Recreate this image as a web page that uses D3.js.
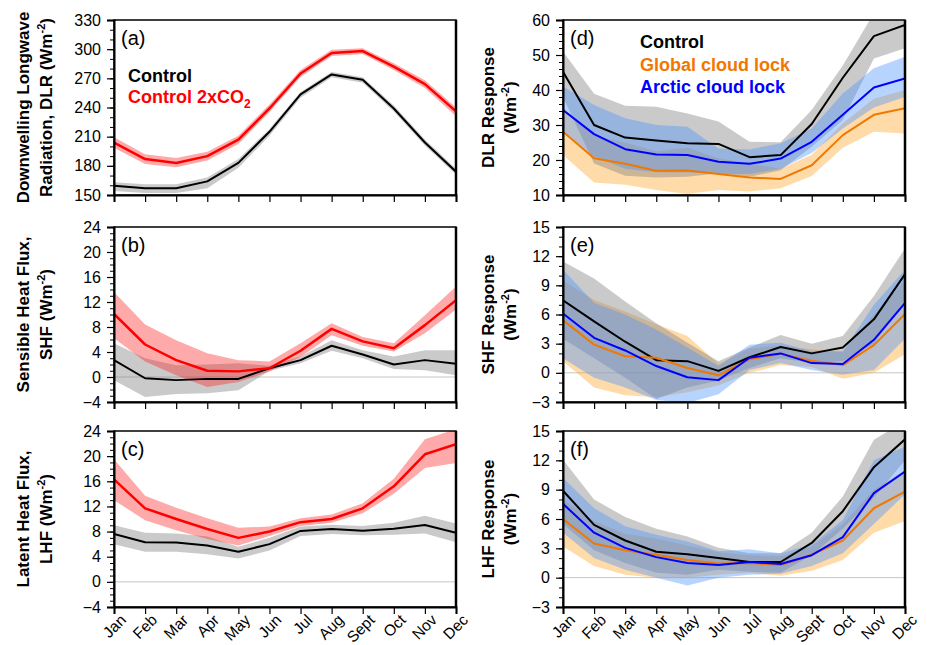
<!DOCTYPE html>
<html>
<head>
<meta charset="utf-8">
<script src="https://cdn.jsdelivr.net/npm/d3@7"></script>
<style>
  html, body { margin: 0; padding: 0; background: #fff; }
  svg { display: block; font-family: "Liberation Sans", Arial, sans-serif; }
</style>
</head>
<body>
<svg id="chart" width="927" height="645"></svg>
<script>
// ---------- DATA ----------
const months = ["Jan","Feb","Mar","Apr","May","Jun","Jul","Aug","Sept","Oct","Nov","Dec"];

// (a) DLR
const dlrCtl    = [159.5,157,157,164,183,215,253.5,274,268.5,239,204,174];
const dlrCtlLo  = [154,152,152,157,178,211,250,271,265.5,236,201,171];
const dlrCtlHi  = [163,161,161,168,187,218,256,276.5,271,242,207,177];
const dlr2x     = [204,187,183,190,207,239,275,296,298,282,264,236];
const dlr2xLo   = [198.5,182,178.5,185.5,202.5,235.5,271.5,293,295,278.5,260,231];
const dlr2xHi   = [209.5,192,188,194.5,211,243,278.5,299.5,301,285.5,268,240];

// (b) SHF
const shfCtl    = [2.7,-0.2,-0.5,-0.3,-0.3,1.4,2.7,5.0,3.6,2.0,2.7,2.1];
const shfCtlLo  = [-0.5,-3.2,-2.7,-2.6,-2.1,1.0,2.2,4.2,3.0,1.3,1.1,0.3];
const shfCtlHi  = [5.4,3.0,1.9,2.0,2.2,1.8,3.3,5.9,4.3,3.3,4.3,4.3];
const shf2x     = [10.1,5.2,2.7,1.0,0.9,1.4,4.2,7.7,5.7,4.6,8.3,12.3];
const shf2xLo   = [6.2,2.5,0.3,-1.6,-0.8,0.9,3.2,6.7,5.0,4.1,7.0,10.8];
const shf2xHi   = [13.6,8.4,5.9,3.8,2.7,2.5,5.4,8.6,6.4,5.4,9.9,14.5];

// (c) LHF
const lhfCtl    = [7.6,6.3,6.25,5.8,4.8,6.0,8.1,8.4,8.15,8.45,9.05,7.8];
const lhfCtlLo  = [6.0,4.8,4.8,4.4,3.7,5.0,7.3,7.6,7.4,7.5,7.7,6.3];
const lhfCtlHi  = [9.0,7.8,7.7,7.2,5.6,7.0,8.8,9.1,8.9,9.4,10.5,9.3];
const lhf2x     = [16.3,11.7,10.0,8.4,7.0,8.0,9.5,10.0,11.7,15.2,20.3,21.9];
const lhf2xLo   = [13.0,9.8,8.2,6.8,5.8,7.3,8.9,9.4,10.9,14.0,18.1,18.9];
const lhf2xHi   = [19.5,13.7,11.8,10.1,8.6,8.8,10.1,10.7,12.5,16.4,22.7,24.3];

// (d) DLR response
const dCtl      = [45.2,30.0,26.4,25.6,24.8,24.6,20.8,21.4,30.3,43.5,55.4,58.6];
const dCtlLo    = [38,19,15.5,15,15.2,16.2,15.2,17.1,23.8,31.4,49,51.9];
const dCtlHi    = [51,38.9,35.5,35.2,33.3,31,25.2,25.1,34.3,47,62,64];
const dGlob     = [28.1,20.5,18.9,16.9,17.0,16.0,15.0,14.6,18.5,27.1,32.9,34.8];
const dGlobLo   = [21.4,13.6,12.9,11.4,10.3,11.4,11.0,11.9,15.4,23.5,28.1,27.6];
const dGlobHi   = [35,27,25,22.5,23.5,20.5,19,17.5,21.5,30.5,37.5,40];
const dArc      = [34.3,27.4,23.1,21.6,21.4,19.5,18.9,20.4,25.2,32.9,40.7,43.3];
const dArcLo    = [28,21,17.5,16.5,16.5,16,16,17.5,22,29,35,38];
const dArcHi    = [41,35.7,31.9,30,29.5,23.3,23,24.8,29,39,46.2,49.5];

// (e) SHF response
const eCtl      = [7.45,5.3,3.2,1.3,1.2,0.2,1.6,2.65,2.0,2.6,5.5,10.15];
const eCtlLo    = [3.5,1.5,-0.5,-2.7,-1.5,-0.8,0.5,1.5,1.0,1.2,3.0,7.5];
const eCtlHi    = [11.45,9.7,7.35,5.1,3.1,1.2,2.6,3.9,3.0,3.8,7.9,12.8];
const eGlob     = [5.4,2.9,1.7,1.55,0.5,-0.25,1.4,1.95,1.25,0.8,2.85,6.05];
const eGlobLo   = [1.2,-1.5,-2.3,-2.5,-2.0,-1.3,0.0,0.8,0.6,-0.6,0.0,1.9];
const eGlobHi   = [9.5,7.5,6.3,5.0,3.8,0.9,2.5,2.8,2.4,2.2,6.0,9.5];
const eArc      = [6.1,3.6,2.3,0.7,-0.45,-0.75,1.55,2.0,1.0,0.9,3.4,7.2];
const eArcLo    = [1.5,-0.5,-1.5,-2.8,-3.1,-2.2,0.3,1.0,0.3,-0.2,0.3,3.5];
const eArcHi    = [10.6,7.2,6.0,4.45,2.6,0.7,2.9,3.1,2.2,2.2,7.0,10.6];

// (f) LHF response
const fCtl      = [8.9,5.4,3.8,2.65,2.4,2.0,1.6,1.6,3.55,6.8,11.3,14.15];
const fCtlLo    = [5.5,2.8,1.5,0.5,0.3,0.8,0.6,0.5,2.3,5.0,8.2,12];
const fCtlHi    = [12.05,8.0,6.2,5.0,4.2,3.05,2.5,2.5,4.6,8.3,14.1,16];
const fGlob     = [6.0,3.5,2.8,2.35,1.8,1.45,1.5,1.3,2.35,3.8,7.1,8.8];
const fGlobLo   = [3.2,1.2,0.3,0.0,0.0,0.3,0.5,0.2,0.7,1.8,4.6,5.8];
const fGlobHi   = [8,5.8,4.5,4.0,3.3,2.6,2.3,2.2,3.2,5.5,9,11];
const fArc      = [7.55,4.6,3.05,2.1,1.5,1.3,1.6,1.4,2.3,4.15,8.65,10.85];
const fArcLo    = [4.6,2.0,0.8,0.0,-0.8,0.0,0.3,0.4,1.2,2.5,5.5,8.5];
const fArcHi    = [10.2,7.1,5.25,4.4,3.7,2.7,2.9,2.5,3.4,5.9,12,13.4];

// tick values
const ticksA = [150,180,210,240,270,300,330];
const ticksBC = [-4,0,4,8,12,16,20,24];
const ticksD = [10,20,30,40,50,60];
const ticksEF = [-3,0,3,6,9,12,15];

// ---------- STYLE ----------
const COL = {
  black: "#000000", red: "#ff0000", orange: "#f07800", blue: "#0000ff",
  grayBand: "#808080", redBand: "#ff2020", orangeBand: "#ffb040", blueBand: "#4a94ff"
};
const OP = { grayBand: 0.42, redBand: 0.38, orangeBand: 0.45, blueBand: 0.4 };

const svg = d3.select("#chart");
const W = 342;
const rows = [{top: 20, h: 175}, {top: 227, h: 175}, {top: 431, h: 176}];
const cols = [114, 563];

function trio(c, cl, ch, o, ol, oh, b, bl, bh) {
  return {
    bands: [
      {lo: ol, hi: oh, fill: COL.orangeBand, op: OP.orangeBand},
      {lo: cl, hi: ch, fill: COL.grayBand, op: OP.grayBand},
      {lo: bl, hi: bh, fill: COL.blueBand, op: OP.blueBand}
    ],
    lines: [
      {v: c, color: COL.black, w: 2},
      {v: o, color: COL.orange, w: 2},
      {v: b, color: COL.blue, w: 2}
    ]
  };
}
function duo(c, cl, ch, r, rl, rh) {
  return {
    bands: [
      {lo: cl, hi: ch, fill: COL.grayBand, op: OP.grayBand},
      {lo: rl, hi: rh, fill: COL.redBand, op: OP.redBand}
    ],
    lines: [
      {v: c, color: COL.black, w: 2},
      {v: r, color: COL.red, w: 2.5}
    ]
  };
}

const panels = [
  { col: 0, row: 0, label: "(a)", domain: [150,330], ticks: ticksA, minor: 10, zero: false,
    title: [[{t:"Downwelling Longwave"}], [{t:"Radiation, DLR (Wm"},{t:"-2",sup:true},{t:")"}]],
    data: duo(dlrCtl, dlrCtlLo, dlrCtlHi, dlr2x, dlr2xLo, dlr2xHi) },
  { col: 0, row: 1, label: "(b)", domain: [-4,24], ticks: ticksBC, minor: 1, zero: true,
    title: [[{t:"Sensible Heat Flux,"}], [{t:"SHF (Wm"},{t:"-2",sup:true},{t:")"}]],
    data: duo(shfCtl, shfCtlLo, shfCtlHi, shf2x, shf2xLo, shf2xHi) },
  { col: 0, row: 2, label: "(c)", domain: [-4,24], ticks: ticksBC, minor: 1, zero: true, xlabels: true,
    title: [[{t:"Latent Heat Flux,"}], [{t:"LHF (Wm"},{t:"-2",sup:true},{t:")"}]],
    data: duo(lhfCtl, lhfCtlLo, lhfCtlHi, lhf2x, lhf2xLo, lhf2xHi) },
  { col: 1, row: 0, label: "(d)", domain: [10,60], ticks: ticksD, minor: 2, zero: false,
    title: [[{t:"DLR Response"}], [{t:"(Wm"},{t:"-2",sup:true},{t:")"}]],
    data: trio(dCtl, dCtlLo, dCtlHi, dGlob, dGlobLo, dGlobHi, dArc, dArcLo, dArcHi) },
  { col: 1, row: 1, label: "(e)", domain: [-3,15], ticks: ticksEF, minor: 1, zero: true,
    title: [[{t:"SHF Response"}], [{t:"(Wm"},{t:"-2",sup:true},{t:")"}]],
    data: trio(eCtl, eCtlLo, eCtlHi, eGlob, eGlobLo, eGlobHi, eArc, eArcLo, eArcHi) },
  { col: 1, row: 2, label: "(f)", domain: [-3,15], ticks: ticksEF, minor: 1, zero: true, xlabels: true,
    title: [[{t:"LHF Response"}], [{t:"(Wm"},{t:"-2",sup:true},{t:")"}]],
    data: trio(fCtl, fCtlLo, fCtlHi, fGlob, fGlobLo, fGlobHi, fArc, fArcLo, fArcHi) }
];

function writeSegments(textSel, segs, supSize) {
  segs.forEach((s, i) => {
    const ts = textSel.append("tspan").text(s.t);
    if (s.sup) {
      ts.attr("font-size", supSize).attr("dy", -7);
    } else if (s.sub) {
      ts.attr("font-size", supSize).attr("dy", 5);
    } else if (i > 0 && (segs[i-1].sup || segs[i-1].sub)) {
      ts.attr("dy", segs[i-1].sup ? 7 : -5);
    }
  });
}

panels.forEach((p, pi) => {
  const x0 = cols[p.col], r = rows[p.row];
  const g = svg.append("g").attr("transform", `translate(${x0},${r.top})`);
  const x = d3.scalePoint().domain(months).range([0, W]);
  const y = d3.scaleLinear().domain(p.domain).range([r.h, 0]);

  const clipId = "clip" + pi;
  g.append("clipPath").attr("id", clipId).append("rect")
    .attr("x", 0).attr("y", 0).attr("width", W).attr("height", r.h);
  const plot = g.append("g").attr("clip-path", `url(#${clipId})`);

  const area = d3.area()
    .x((d, i) => x(months[i]))
    .y0(d => y(d[0])).y1(d => y(d[1]));
  const line = d3.line().x((d, i) => x(months[i])).y(d => y(d));

  if (p.zero) {
    plot.append("line").attr("x1", 0).attr("x2", W)
      .attr("y1", y(0)).attr("y2", y(0))
      .attr("stroke", "#c4c4c4").attr("stroke-width", 1);
  }

  p.data.bands.forEach(s => {
    plot.append("path")
      .datum(s.lo.map((l, i) => [l, s.hi[i]]))
      .attr("d", area)
      .attr("fill", s.fill).attr("fill-opacity", s.op).attr("stroke", "none");
  });

  p.data.lines.forEach(s => {
    plot.append("path").datum(s.v).attr("d", line)
      .attr("fill", "none").attr("stroke", s.color).attr("stroke-width", s.w)
      .attr("stroke-linejoin", "round");
  });

  // box
  g.append("rect").attr("x", 0).attr("y", 0).attr("width", W).attr("height", r.h)
    .attr("fill", "none").attr("stroke", "#000").attr("stroke-width", 1.5);

  // minor y ticks
  const minorVals = d3.range(p.domain[0], p.domain[1] + 1e-9, p.minor);
  const yMinor = d3.axisLeft(y).tickValues(minorVals).tickSize(4).tickFormat("");
  g.append("g").call(yMinor).call(a => a.select(".domain").remove())
    .selectAll("line").attr("stroke-width", 1);

  // major y axis
  const yAxis = d3.axisLeft(y).tickValues(p.ticks).tickSize(7).tickPadding(6)
    .tickFormat(d3.format("d"));
  const ya = g.append("g").call(yAxis);
  ya.select(".domain").attr("stroke-width", 2);
  ya.selectAll("line").attr("stroke-width", 1.2);
  ya.selectAll("text").attr("font-size", 16).attr("fill", "#000")
    .attr("font-family", "Liberation Sans, Arial, sans-serif");

  // right edge
  g.append("line").attr("x1", W).attr("x2", W).attr("y1", 0).attr("y2", r.h)
    .attr("stroke", "#000").attr("stroke-width", 2.5);

  // x axis
  const xAxis = d3.axisBottom(x).tickSize(7).tickFormat("");
  const xa = g.append("g").attr("transform", `translate(0,${r.h})`).call(xAxis);
  xa.select(".domain").attr("stroke-width", 2);
  xa.selectAll("line").attr("stroke-width", 1.2);
  if (p.xlabels) {
    g.append("g").selectAll("text").data(months).join("text")
      .attr("transform", d => `translate(${x(d) + 13},${r.h + 14}) rotate(-45)`)
      .attr("text-anchor", "end")
      .attr("font-size", 15.5)
      .text(d => d);
  }

  // panel label
  g.append("text").attr("x", 7).attr("y", 25).attr("font-size", 20).text(p.label);

  // axis title
  const cy = r.top + r.h / 2;
  const tx = p.col === 0 ? [29, 52] : [494, 516];
  p.title.forEach((segs, li) => {
    const t = svg.append("text")
      .attr("transform", `translate(${tx[li]},${cy}) rotate(-90)`)
      .attr("text-anchor", "middle").attr("font-weight", "bold").attr("font-size", 17);
    writeSegments(t, segs, 11);
  });
});

// legends
const legA = [
  { segs: [{t: "Control"}], color: COL.black },
  { segs: [{t: "Control 2xCO"}, {t: "2", sub: true}], color: COL.red }
];
legA.forEach((l, i) => {
  const t = svg.append("text").attr("x", 128).attr("y", 82 + i * 21)
    .attr("font-weight", "bold").attr("font-size", 18).attr("fill", l.color);
  writeSegments(t, l.segs, 12);
});
const legD = [
  { t: "Control", color: COL.black },
  { t: "Global cloud lock", color: COL.orange },
  { t: "Arctic cloud lock", color: COL.blue }
];
legD.forEach((l, i) => {
  svg.append("text").attr("x", 640).attr("y", 48 + i * 22.5)
    .attr("font-weight", "bold").attr("font-size", 18).attr("fill", l.color).text(l.t);
});
</script>
</body>
</html>
